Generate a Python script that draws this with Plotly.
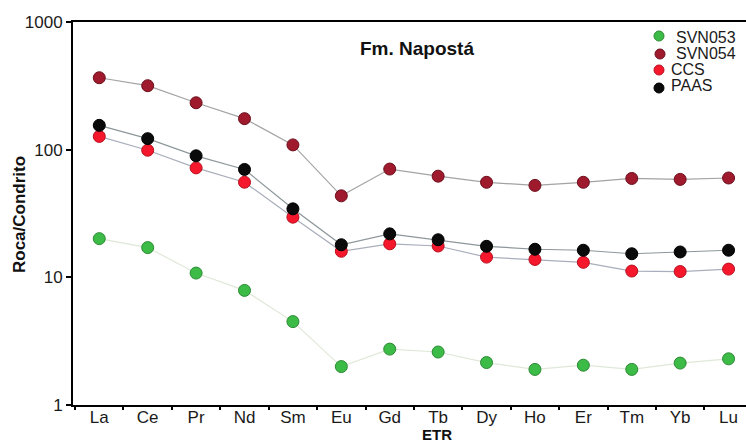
import plotly.graph_objects as go

# Rare earth elements (chondrite-normalised)
elements = ["La", "Ce", "Pr", "Nd", "Sm", "Eu", "Gd", "Tb", "Dy", "Ho", "Er", "Tm", "Yb", "Lu"]

svn053 = [20.1, 17.1, 10.8, 7.9, 4.5, 2.0, 2.74, 2.6, 2.15, 1.9, 2.05, 1.9, 2.13, 2.3]
svn054 = [366, 317, 233, 175, 109, 43.5, 70.5, 62, 55.5, 52.5, 55.5, 59.5, 58.5, 60]
ccs = [127, 99, 72, 55.6, 29.6, 16.0, 18.3, 17.6, 14.4, 13.8, 13.1, 11.2, 11.1, 11.6]
paas = [155, 122, 89.5, 70, 34.4, 18.0, 21.9, 19.7, 17.5, 16.6, 16.3, 15.3, 15.8, 16.3]

y_ticks = [1, 10, 100, 1000]
y_tick_labels = ["1", "10", "100", "1000"]

series = [
    ("SVN053", svn053, "#3dbb47", "#2a8a33", "#dfe8d8"),
    ("SVN054", svn054, "#9e1a2c", "#6d0e1c", "#a3a3a3"),
    ("CCS", ccs, "#f5182c", "#b80f1f", "#a8aebb"),
    ("PAAS", paas, "#0a0a0a", "#000000", "#8d979a"),
]

FONT = "Liberation Sans, Arial, sans-serif"
W, H = 746, 443
ML, MR, MT, MB = 73, 0, 22, 38
PW, PH = W - ML - MR, H - MT - MB

fig = go.Figure()
for name, vals, fill, edge, line in series:
    fig.add_trace(go.Scatter(
        x=elements, y=vals, name=name, mode="lines+markers",
        line=dict(color=line, width=1.2),
        marker=dict(size=12, color=fill, line=dict(color=edge, width=1)),
        showlegend=False,
    ))

# Hand-placed compact legend in the upper right corner
legend_rows = [
    ("SVN053", "#3dbb47", "#2a8a33", 659, 36, 674, 37.5),
    ("SVN054", "#9e1a2c", "#6d0e1c", 660, 54, 674, 53.5),
    ("CCS", "#f5182c", "#b80f1f", 659, 70, 669, 69.5),
    ("PAAS", "#0a0a0a", "#000000", 659, 88, 669, 86),
]
shapes = []
annotations = []
for name, fill, edge, mx, my, tx, ty in legend_rows:
    shapes.append(dict(
        type="circle", xref="paper", yref="paper",
        xsizemode="pixel", ysizemode="pixel",
        xanchor=(mx - ML) / PW, yanchor=(H - MB - my) / PH,
        x0=-5, x1=5, y0=-5, y1=5,
        fillcolor=fill, line=dict(color=edge, width=1),
    ))
    annotations.append(dict(
        text=name, xref="paper", yref="paper",
        x=(tx - ML) / PW, y=(H - MB - ty) / PH,
        xanchor="left", yanchor="middle", showarrow=False,
        font=dict(family=FONT, size=16, color="#1a1a1a"),
    ))

annotations.append(dict(
    text="<b>Fm. Napostá</b>", xref="paper", yref="paper",
    x=(416.5 - ML) / PW, y=(H - MB - 48) / PH,
    xanchor="center", yanchor="middle", showarrow=False,
    font=dict(family=FONT, size=19, color="#111111"),
))
annotations.append(dict(
    text="<b>ETR</b>", xref="paper", yref="paper",
    x=(437 - ML) / PW, y=(H - MB - 434) / PH,
    xanchor="center", yanchor="middle", showarrow=False,
    font=dict(family=FONT, size=15, color="#111111"),
))
annotations.append(dict(
    text="<b>Roca/Condrito</b>", xref="paper", yref="paper",
    x=(19 - ML) / PW, y=(H - MB - 214) / PH, textangle=-90,
    xanchor="center", yanchor="middle", showarrow=False,
    font=dict(family=FONT, size=17, color="#111111"),
))

fig.update_layout(
    width=W, height=H,
    margin=dict(l=ML, r=MR, t=MT, b=MB, pad=0),
    paper_bgcolor="white", plot_bgcolor="white",
    shapes=shapes, annotations=annotations,
    xaxis=dict(
        type="category", range=[-0.543, 13.36],
        showline=True, linecolor="black", linewidth=2, mirror=True,
        ticks="outside", tickson="boundaries", ticklen=3, tickwidth=2, tickcolor="black",
        showgrid=False, zeroline=False, ticklabelstandoff=-4,
        tickfont=dict(family=FONT, size=17, color="#1a1a1a"),
    ),
    yaxis=dict(
        type="log", range=[0, 3],
        tickvals=y_ticks, ticktext=y_tick_labels,
        showline=True, linecolor="black", linewidth=2,
        ticks="outside", ticklen=5, tickwidth=2, tickcolor="black",
        showgrid=False, zeroline=False,
        tickfont=dict(family=FONT, size=17, color="#1a1a1a"),
    ),
)

fig.write_html("out.html")
